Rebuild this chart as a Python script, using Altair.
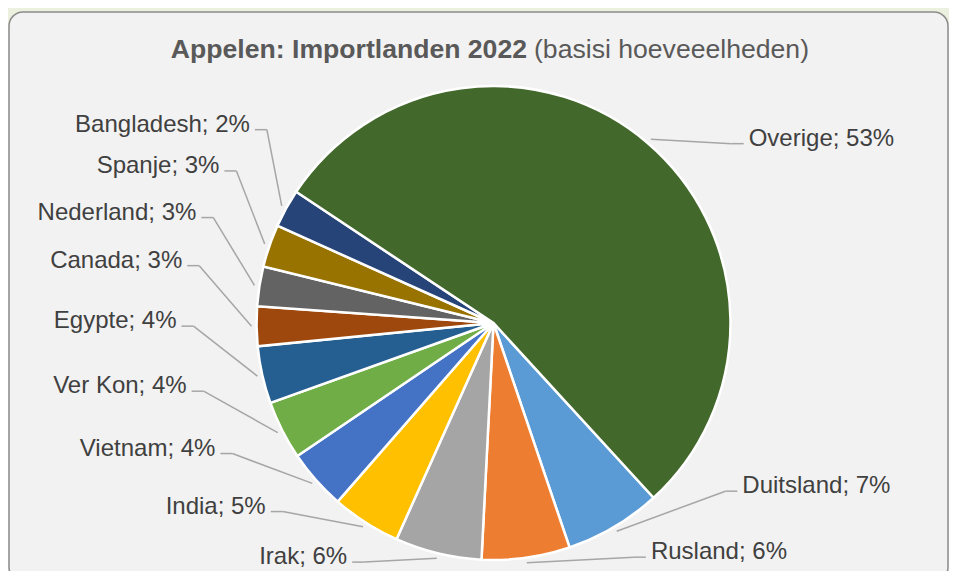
import math
import altair as alt
import pandas as pd

# ---- data (Excel series order, first slice = Duitsland) ----
countries = ["Duitsland", "Rusland", "Irak", "India", "Vietnam", "Ver Kon",
             "Egypte", "Canada", "Nederland", "Spanje", "Bangladesh", "Overige"]
shares = [6.6, 6.0, 5.9, 4.7, 4.1, 4.0, 3.9, 2.7, 2.7, 2.9, 2.6, 53.8]
shown_pct = [7, 6, 6, 5, 4, 4, 4, 3, 3, 3, 2, 53]
colors = ["#5B9BD5", "#ED7D31", "#A5A5A5", "#FFC000", "#4472C4", "#70AD47",
          "#255E91", "#9E480E", "#636363", "#997300", "#264478", "#43682B"]
title_bold = "Appelen: Importlanden 2022"
title_rest = "(basisi hoeveeelheden)"

df = pd.DataFrame({
    "country": countries,
    "share": shares,
    "pct": shown_pct,
    "idx": list(range(len(countries))),
})
df["label"] = [f"{c}; {p}%" for c, p in zip(countries, shown_pct)]

FONT = "Liberation Sans"
START = math.radians(137.5)
CX, CY, R = 484.5, 311, 237
LINE = "#A6A6A6"

base = alt.Chart(df)

theta = alt.Theta("share:Q", stack=True,
                  scale=alt.Scale(range=[START, START + 2 * math.pi]))

pie = base.mark_arc(outerRadius=R, stroke="white", strokeWidth=2.5).encode(
    theta=theta,
    color=alt.Color("country:N", scale=alt.Scale(domain=countries, range=colors), legend=None),
    order=alt.Order("idx:Q"),
    x=alt.value(CX),
    y=alt.value(CY),
)

geo = (
    base.transform_window(cum="sum(share)", sort=[alt.SortField("idx")], frame=[None, 0])
    .transform_joinaggregate(total="sum(share)")
    .transform_calculate(mid=f"{START} + 2*PI*(datum.cum - datum.share/2)/datum.total")
    .transform_calculate(deg="((datum.mid*180/PI) % 360 + 360) % 360")
    .transform_calculate(la="datum.mid + ((datum.deg > 90 && datum.deg < 180) ? -20 : 12)*PI/180")
    .transform_calculate(side="sin(datum.la) < 0 ? -1 : 1")
    .transform_calculate(px0=f"{CX} + {R + 5}*sin(datum.mid)")
    .transform_calculate(py0=f"{CY} - {R + 5}*cos(datum.mid)")
    .transform_calculate(ex=f"{CX} + 300*sin(datum.la)")
    .transform_calculate(ey=f"{CY} - (cos(datum.la) > 0 ? 295 : 265)*cos(datum.la)")
    .transform_calculate(hx="datum.ex + datum.side*12")
    .transform_calculate(tx="datum.ex + datum.side*17")
)

lead1 = geo.mark_rule(color=LINE, strokeWidth=1.5).encode(
    x=alt.X("px0:Q", scale=None, axis=None),
    y=alt.Y("py0:Q", scale=None, axis=None),
    x2="ex:Q",
    y2="ey:Q",
)
lead2 = geo.mark_rule(color=LINE, strokeWidth=1.5).encode(
    x=alt.X("ex:Q", scale=None, axis=None),
    y=alt.Y("ey:Q", scale=None, axis=None),
    x2="hx:Q",
)

txt_kw = dict(baseline="alphabetic", dy=2, font=FONT, fontSize=24, color="#404040")
lab_left = geo.transform_filter("datum.side < 0").mark_text(align="right", **txt_kw).encode(
    x=alt.X("tx:Q", scale=None, axis=None),
    y=alt.Y("ey:Q", scale=None, axis=None),
    text="label:N",
)
lab_right = geo.transform_filter("datum.side > 0").mark_text(align="left", **txt_kw).encode(
    x=alt.X("tx:Q", scale=None, axis=None),
    y=alt.Y("ey:Q", scale=None, axis=None),
    text="label:N",
)

t1 = alt.Chart(pd.DataFrame({"t": [title_bold]})).mark_text(
    align="right", baseline="alphabetic", font=FONT, fontSize=26.6,
    fontWeight="bold", color="#595959"
).encode(text="t:N", x=alt.value(518), y=alt.value(46))
t2 = alt.Chart(pd.DataFrame({"t": [title_rest]})).mark_text(
    align="left", baseline="alphabetic", font=FONT, fontSize=26.6,
    color="#595959"
).encode(text="t:N", x=alt.value(525), y=alt.value(46))

chart = (
    alt.layer(pie, lead1, lead2, lab_left, lab_right, t1, t2)
    .properties(width=939, height=569, autosize="none",
                padding={"left": 1, "top": 4, "right": 1, "bottom": -10},
                background="#EBF1DE")
    .configure_view(fill="#F2F2F2", stroke="#8C8C8C", strokeWidth=1.5, cornerRadius=14)
)

chart.save("out.html", embed_options={"renderer": "svg", "actions": False})
